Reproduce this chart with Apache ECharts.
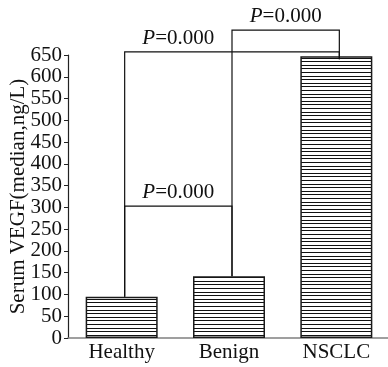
<!DOCTYPE html>
<html>
<head>
<meta charset="utf-8">
<script src="https://cdn.jsdelivr.net/npm/echarts@6/dist/echarts.min.js"></script>
<style>html,body{margin:0;padding:0;background:#fff}#c{width:388px;height:367px}</style>
</head>
<body>
<div id="c"></div>
<script>
// Data
const categories = ['Healthy', 'Benign', 'NSCLC'];
const medianValues = [95, 142, 647];
const yTicks = [0, 50, 100, 150, 200, 250, 300, 350, 400, 450, 500, 550, 600, 650];
// Significance brackets
const bracketLeft = [0, 0, 1];
const bracketRight = [1, 2, 2];
const bracketHeight = [303, 657, 707];
const bracketLeftLow = [95, 95, 142];
const bracketRightLow = [142, 640, 640];
const labelLeft = [0, 0, 1];
const labelRight = [1, 1, 2];
const pValues = ['0.000', '0.000', '0.000'];

const FONT = '"Liberation Serif", "Times New Roman", serif';

// stripe pattern
const pc = document.createElement('canvas');
pc.width = 8; pc.height = 18;
const px = pc.getContext('2d');
px.fillStyle = '#fff'; px.fillRect(0, 0, 8, 18);
px.fillStyle = '#111';
[0, 4, 7, 11, 14].forEach(r => px.fillRect(0, r, 8, 1));

const bracketData = bracketLeft.map((l, i) => [l, bracketRight[i], bracketHeight[i], bracketLeftLow[i], bracketRightLow[i], labelLeft[i], labelRight[i], i]);

const chart = echarts.init(document.getElementById('c'), null, {renderer: 'canvas'});
chart.setOption({
  animation: false,
  backgroundColor: '#fff',
  grid: {left: 68, top: 55, width: 322, bottom: 29, containLabel: false, outerBoundsMode: 'none'},
  xAxis: {
    type: 'category',
    data: categories,
    axisLine: {lineStyle: {color: '#808080', width: 1.5}},
    axisTick: {alignWithLabel: true, length: 4, lineStyle: {color: '#333'}},
    axisLabel: {color: '#111', fontFamily: FONT, fontSize: 21, margin: 4}
  },
  yAxis: {
    type: 'value',
    min: 0, max: 650, interval: 50,
    name: 'Serum VEGF(median,ng/L)',
    nameLocation: 'middle',
    nameGap: 39,
    nameMoveOverlap: false,
    nameTextStyle: {color: '#111', fontFamily: FONT, fontSize: 21},
    axisLine: {show: true, lineStyle: {color: '#222', width: 1.2}},
    axisTick: {show: true, length: 4, lineStyle: {color: '#222'}},
    axisLabel: {color: '#111', fontFamily: FONT, fontSize: 21, margin: 6,
      formatter: v => yTicks.indexOf(v) >= 0 ? String(v) : ''},
    splitLine: {show: false}
  },
  series: [
    {
      type: 'bar',
      data: medianValues,
      barWidth: 72,
      itemStyle: {color: {image: pc, repeat: 'repeat'}, borderColor: '#1a1a1a', borderWidth: 1.5}
    },
    {
      type: 'custom',
      clip: false,
      z: 5,
      data: bracketData,
      renderItem: function (params, api) {
        const off = 3;
        const a = api.value(0), b = api.value(1), h = api.value(2);
        const pl = api.coord([a, api.value(3)]);
        const ph = api.coord([a, h]);
        const pr = api.coord([b, api.value(4)]);
        const prh = api.coord([b, h]);
        const la = api.coord([api.value(5), h]);
        const lb = api.coord([api.value(6), h]);
        const idx = api.value(7);
        return {
          type: 'group',
          children: [
            {
              type: 'polyline',
              shape: {points: [[pl[0] + off, pl[1]], [ph[0] + off, ph[1]], [prh[0] + off, prh[1]], [pr[0] + off, pr[1]]]},
              style: {stroke: '#111', lineWidth: 1.2, fill: null}
            },
            {
              type: 'text',
              x: (la[0] + lb[0]) / 2 + off,
              y: ph[1] - 3,
              style: {
                text: '{i|P}=' + pValues[idx],
                fill: '#111',
                font: '21px ' + FONT,
                align: 'center',
                verticalAlign: 'bottom',
                rich: {i: {fontStyle: 'italic', fontFamily: FONT, fontSize: 21, fill: '#111'}}
              }
            }
          ]
        };
      }
    }
  ]
});
</script>
</body>
</html>
